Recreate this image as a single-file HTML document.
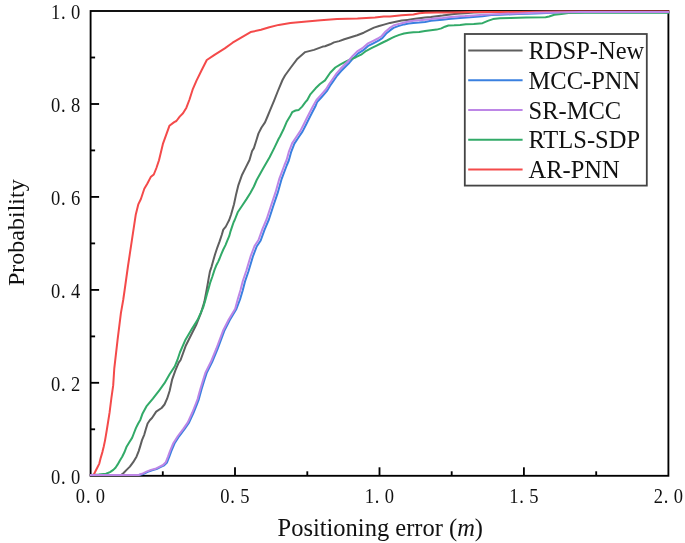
<!DOCTYPE html>
<html><head><meta charset="utf-8"><style>
html,body{margin:0;padding:0;background:#fff;}
body{width:685px;height:543px;overflow:hidden;}
svg{display:block;will-change:transform;}
text{font-family:"Liberation Serif",serif;fill:#111;}
.tk{font-size:20.6px;}
.lg{font-size:24.5px;}
.ax{font-size:24.5px;}
</style></head><body>
<svg width="685" height="543" viewBox="0 0 685 543">
<rect width="685" height="543" fill="#fff"/>
<g stroke="#000" stroke-width="1.85" fill="none">
<rect x="90.6" y="11.0" width="577.8" height="464.8"/>
<line x1="162.8" y1="475.8" x2="162.8" y2="471.3"/><line x1="235.0" y1="475.8" x2="235.0" y2="467.3"/><line x1="307.3" y1="475.8" x2="307.3" y2="471.3"/><line x1="379.5" y1="475.8" x2="379.5" y2="467.3"/><line x1="451.7" y1="475.8" x2="451.7" y2="471.3"/><line x1="523.9" y1="475.8" x2="523.9" y2="467.3"/><line x1="596.2" y1="475.8" x2="596.2" y2="471.3"/><line x1="90.6" y1="429.3" x2="95.1" y2="429.3"/><line x1="90.6" y1="382.8" x2="99.1" y2="382.8"/><line x1="90.6" y1="336.4" x2="95.1" y2="336.4"/><line x1="90.6" y1="289.9" x2="99.1" y2="289.9"/><line x1="90.6" y1="243.4" x2="95.1" y2="243.4"/><line x1="90.6" y1="196.9" x2="99.1" y2="196.9"/><line x1="90.6" y1="150.4" x2="95.1" y2="150.4"/><line x1="90.6" y1="104.0" x2="99.1" y2="104.0"/><line x1="90.6" y1="57.5" x2="95.1" y2="57.5"/>
</g>
<g fill="none" stroke-width="2.0" stroke-linejoin="round" stroke-linecap="round">
<polyline points="90.6,475.0 119.0,475.0 121.0,475.0 123.3,473.2 126.6,469.9 129.9,466.6 133.2,462.2 136.5,456.7 138.7,451.1 140.4,445.6 142.0,440.1 144.3,434.6 145.9,429.0 147.6,423.5 149.8,420.2 152.0,418.0 156.2,411.6 161.6,408.0 164.5,404.5 167.1,398.7 169.6,391.0 172.2,379.3 175.4,370.3 178.7,362.6 180.6,360.0 185.5,346.3 192.1,333.0 196.5,324.2 200.9,313.1 204.3,302.1 206.2,292.3 207.4,285.7 208.7,278.2 209.9,271.6 211.6,266.6 213.2,260.8 215.0,254.5 217.4,247.3 219.6,241.4 221.8,234.7 223.3,229.6 225.8,226.6 227.7,222.9 229.2,220.0 231.1,214.5 234.0,204.2 236.2,193.9 238.4,185.1 242.1,174.7 245.8,167.4 249.5,160.0 252.1,151.0 253.9,148.1 256.3,140.5 258.5,133.4 261.5,127.5 265.0,122.4 267.5,116.5 269.6,111.3 274.2,100.3 277.9,91.0 282.5,80.0 285.0,75.5 290.8,67.5 297.5,58.7 305.2,52.1 314.0,49.9 322.8,46.6 325.0,46.3 330.2,44.3 334.0,42.4 339.2,41.1 344.3,39.2 350.8,37.2 357.2,35.3 363.7,32.7 368.8,30.2 374.0,27.6 379.1,26.0 384.0,24.6 390.0,22.9 395.8,21.8 401.7,20.6 407.5,19.9 413.4,19.1 419.2,18.3 425.0,17.6 430.9,17.1 436.7,16.2 442.6,15.6 448.4,14.8 454.2,14.1 460.1,13.5 465.0,13.2 473.8,12.4 482.5,12.3 491.3,12.1 500.0,12.0 668.4,12.0" stroke="#5f5f5f"/>
<polyline points="90.6,475.0 138.7,475.0 143.2,474.1 147.7,471.9 152.1,470.2 156.5,469.1 160.9,466.9 164.2,465.3 167.0,462.5 169.2,457.0 171.2,451.4 174.5,443.5 179.1,436.3 184.5,429.1 189.0,422.7 193.5,412.8 197.1,403.8 198.8,399.3 201.4,389.8 204.3,380.3 206.6,373.1 212.1,362.1 217.6,348.8 224.2,331.1 229.8,320.1 236.4,309.0 240.0,299.5 242.7,290.5 245.0,281.5 248.5,271.3 252.9,256.5 256.7,246.5 260.7,240.5 264.5,229.8 268.9,219.5 273.2,206.2 277.7,192.9 281.4,179.7 286.7,165.5 288.8,160.5 291.0,152.4 294.4,143.6 298.8,137.0 302.6,131.4 306.0,124.8 308.7,119.3 312.0,112.7 315.3,106.6 317.1,102.2 321.7,97.0 326.8,91.2 330.1,85.7 333.3,81.2 337.2,75.5 341.1,71.0 345.6,66.5 349.4,62.7 353.3,58.1 357.8,53.6 363.0,50.4 368.1,45.9 373.3,43.3 378.5,40.7 382.3,38.2 386.2,33.6 390.0,30.4 393.5,27.9 398.2,26.1 404.0,24.4 408.7,23.4 413.4,22.9 419.2,22.6 425.0,22.0 430.9,20.8 436.7,20.3 442.6,19.7 448.4,19.1 454.2,18.5 460.1,17.9 470.0,17.3 482.5,16.2 491.3,15.1 500.0,14.8 517.6,13.9 535.1,13.4 552.6,12.7 563.1,12.3 570.1,12.2 585.0,12.2 668.4,12.2" stroke="#3a80e0"/>
<polyline points="90.6,475.0 98.8,474.6 106.0,473.7 110.0,472.1 113.3,469.9 115.5,467.7 117.7,464.4 119.9,460.5 122.2,456.7 124.4,452.3 126.6,446.7 129.3,442.3 132.1,437.9 133.8,433.5 136.0,427.9 138.2,423.5 140.4,419.7 142.6,413.4 146.4,406.4 152.9,398.7 159.3,390.3 164.5,383.2 169.6,374.2 174.8,366.4 177.4,360.0 179.9,352.5 185.5,339.7 192.1,328.6 197.6,319.8 203.1,307.6 205.4,300.0 207.0,293.9 208.7,288.1 210.3,282.3 212.4,276.5 214.5,269.9 216.1,265.8 218.2,261.6 219.6,258.5 221.1,254.6 223.3,249.5 225.5,245.1 227.3,240.6 229.2,236.2 230.6,231.1 232.1,226.6 233.6,222.2 234.7,220.0 237.7,212.3 242.1,205.7 246.5,199.1 250.2,193.2 253.9,186.5 256.7,180.0 263.1,168.4 269.6,157.3 274.2,148.1 278.8,138.5 280.0,136.5 283.3,129.8 286.6,122.1 289.9,116.6 292.2,112.2 295.5,110.5 298.8,109.9 302.1,106.6 305.4,102.2 307.3,100.0 310.1,94.7 315.6,88.3 320.0,84.0 325.0,80.4 330.2,72.7 335.3,67.5 340.5,64.3 345.6,61.7 350.8,59.2 355.9,57.2 361.1,54.7 366.3,50.8 371.4,48.2 376.6,45.6 381.7,43.0 386.9,40.5 392.0,37.9 394.7,36.6 399.3,34.9 404.0,33.5 408.7,32.8 413.4,32.3 419.2,31.9 425.0,31.1 430.9,30.2 436.7,29.6 441.4,28.4 444.9,26.7 448.4,25.5 454.2,25.3 460.1,24.9 465.9,24.2 473.8,24.0 482.5,23.2 487.8,20.9 493.0,19.1 500.0,18.3 510.5,17.9 526.3,17.6 545.6,17.2 549.1,16.5 554.3,14.8 561.4,13.9 568.4,12.9 585.0,12.8 668.4,12.8" stroke="#32aa68"/>
<polyline points="90.6,475.0 93.5,475.1 95.7,470.7 97.5,467.2 99.3,463.6 100.6,458.3 102.4,452.1 103.7,446.8 105.0,440.6 105.9,435.3 106.8,430.0 107.6,425.0 109.6,412.4 111.4,398.0 113.2,385.4 114.3,368.3 117.6,339.6 120.9,313.1 123.2,300.0 124.5,291.0 128.0,266.0 131.9,240.2 135.8,214.4 138.4,204.1 140.9,199.0 144.3,188.7 147.4,183.5 150.7,177.1 153.8,174.5 156.4,168.0 159.0,160.3 162.9,143.9 169.4,125.8 174.2,122.1 176.4,121.0 179.7,116.6 183.0,113.3 186.4,107.7 189.5,99.5 192.6,89.7 196.5,80.6 201.6,70.3 206.8,60.0 214.5,54.8 224.8,48.4 232.6,42.7 240.3,38.1 250.6,32.1 261.0,29.8 269.3,27.2 278.7,24.9 290.4,23.0 306.7,21.4 320.7,20.2 337.1,19.0 357.5,18.5 375.0,17.6 383.8,16.4 390.0,16.4 401.7,15.2 413.4,14.4 419.2,13.3 425.0,12.7 436.7,12.4 448.4,12.4 460.1,12.2 470.0,12.0 520.0,12.0 560.0,11.6 668.4,11.5" stroke="#f44a4a"/>
<polyline points="90.6,475.0 138.7,475.0 142.0,473.8 146.5,471.6 150.9,469.9 155.3,468.8 159.7,466.6 163.0,465.0 165.8,462.2 168.0,456.7 170.0,451.1 173.3,443.2 177.9,436.0 183.3,428.8 187.8,422.4 192.3,412.5 195.9,403.5 197.6,399.0 200.2,389.5 203.1,380.0 205.4,372.8 210.9,361.8 216.4,348.5 223.0,330.8 228.6,319.8 235.2,308.7 237.8,299.0 240.5,290.0 242.8,281.0 246.3,270.8 250.7,256.0 254.5,246.0 258.5,240.0 262.3,229.3 266.7,219.0 271.0,205.7 275.5,192.4 279.2,179.2 284.5,165.0 286.6,160.0 288.8,151.9 292.2,143.1 296.6,136.5 300.4,130.9 303.8,124.3 306.5,118.8 309.8,112.2 313.1,106.1 316.5,100.0 321.1,94.8 326.2,89.0 329.5,83.5 332.7,79.0 336.6,73.3 340.5,68.8 345.0,64.3 348.8,60.5 352.7,55.9 357.2,51.4 362.4,48.2 367.5,43.7 372.7,41.1 377.9,38.5 381.7,36.0 385.6,31.4 389.5,28.2 393.5,25.5 397.0,24.4 401.7,23.2 407.5,21.8 413.4,20.8 419.2,20.3 425.0,19.7 430.9,19.1 436.7,18.3 442.6,17.9 448.4,17.3 454.2,16.8 460.1,16.2 465.0,16.0 473.8,15.4 482.5,14.8 500.0,13.9 517.6,13.4 535.1,12.7 552.6,12.6 566.6,12.3 580.0,12.1 668.4,12.1" stroke="#bd86e6"/>
</g>
<g class="tk">
<text text-anchor="middle" transform="translate(55.70,483.70) scale(0.9,1)">0</text><text text-anchor="middle" transform="translate(63.40,483.70) scale(0.9,1)">.</text><text text-anchor="middle" transform="translate(75.70,483.70) scale(0.9,1)">0</text><text text-anchor="middle" transform="translate(55.70,390.74) scale(0.9,1)">0</text><text text-anchor="middle" transform="translate(63.40,390.74) scale(0.9,1)">.</text><text text-anchor="middle" transform="translate(75.70,390.74) scale(0.9,1)">2</text><text text-anchor="middle" transform="translate(55.70,297.78) scale(0.9,1)">0</text><text text-anchor="middle" transform="translate(63.40,297.78) scale(0.9,1)">.</text><text text-anchor="middle" transform="translate(75.70,297.78) scale(0.9,1)">4</text><text text-anchor="middle" transform="translate(55.70,204.82) scale(0.9,1)">0</text><text text-anchor="middle" transform="translate(63.40,204.82) scale(0.9,1)">.</text><text text-anchor="middle" transform="translate(75.70,204.82) scale(0.9,1)">6</text><text text-anchor="middle" transform="translate(55.70,111.86) scale(0.9,1)">0</text><text text-anchor="middle" transform="translate(63.40,111.86) scale(0.9,1)">.</text><text text-anchor="middle" transform="translate(75.70,111.86) scale(0.9,1)">8</text><text text-anchor="middle" transform="translate(55.70,18.90) scale(0.9,1)">1</text><text text-anchor="middle" transform="translate(63.40,18.90) scale(0.9,1)">.</text><text text-anchor="middle" transform="translate(75.70,18.90) scale(0.9,1)">0</text><text text-anchor="middle" transform="translate(80.50,502.60) scale(0.9,1)">0</text><text text-anchor="middle" transform="translate(88.20,502.60) scale(0.9,1)">.</text><text text-anchor="middle" transform="translate(100.50,502.60) scale(0.9,1)">0</text><text text-anchor="middle" transform="translate(224.95,502.60) scale(0.9,1)">0</text><text text-anchor="middle" transform="translate(232.65,502.60) scale(0.9,1)">.</text><text text-anchor="middle" transform="translate(244.95,502.60) scale(0.9,1)">5</text><text text-anchor="middle" transform="translate(369.40,502.60) scale(0.9,1)">1</text><text text-anchor="middle" transform="translate(377.10,502.60) scale(0.9,1)">.</text><text text-anchor="middle" transform="translate(389.40,502.60) scale(0.9,1)">0</text><text text-anchor="middle" transform="translate(513.85,502.60) scale(0.9,1)">1</text><text text-anchor="middle" transform="translate(521.55,502.60) scale(0.9,1)">.</text><text text-anchor="middle" transform="translate(533.85,502.60) scale(0.9,1)">5</text><text text-anchor="middle" transform="translate(658.30,502.60) scale(0.9,1)">2</text><text text-anchor="middle" transform="translate(666.00,502.60) scale(0.9,1)">.</text><text text-anchor="middle" transform="translate(678.30,502.60) scale(0.9,1)">0</text>
</g>
<rect x="464.8" y="34" width="182" height="151.6" fill="#fff" stroke="#444" stroke-width="1.8"/>
<line x1="468.2" y1="50.4" x2="522.6" y2="50.4" stroke="#5f5f5f" stroke-width="2"/><text x="528.5" y="59.0" class="lg">RDSP-New</text><line x1="468.2" y1="80.2" x2="522.6" y2="80.2" stroke="#3a80e0" stroke-width="2"/><text x="528.5" y="88.8" class="lg">MCC-PNN</text><line x1="468.2" y1="110.0" x2="522.6" y2="110.0" stroke="#bd86e6" stroke-width="2"/><text x="528.5" y="118.6" class="lg">SR-MCC</text><line x1="468.2" y1="139.8" x2="522.6" y2="139.8" stroke="#32aa68" stroke-width="2"/><text x="528.5" y="148.4" class="lg">RTLS-SDP</text><line x1="468.2" y1="169.6" x2="522.6" y2="169.6" stroke="#f44a4a" stroke-width="2"/><text x="528.5" y="178.2" class="lg">AR-PNN</text>
<text class="ax" x="277.5" y="536.4">Positioning error (<tspan font-style="italic">m</tspan>)</text>
<text class="ax" transform="translate(23.7,286) rotate(-90)" style="font-size:24px">Probability</text>
</svg>
</body></html>
